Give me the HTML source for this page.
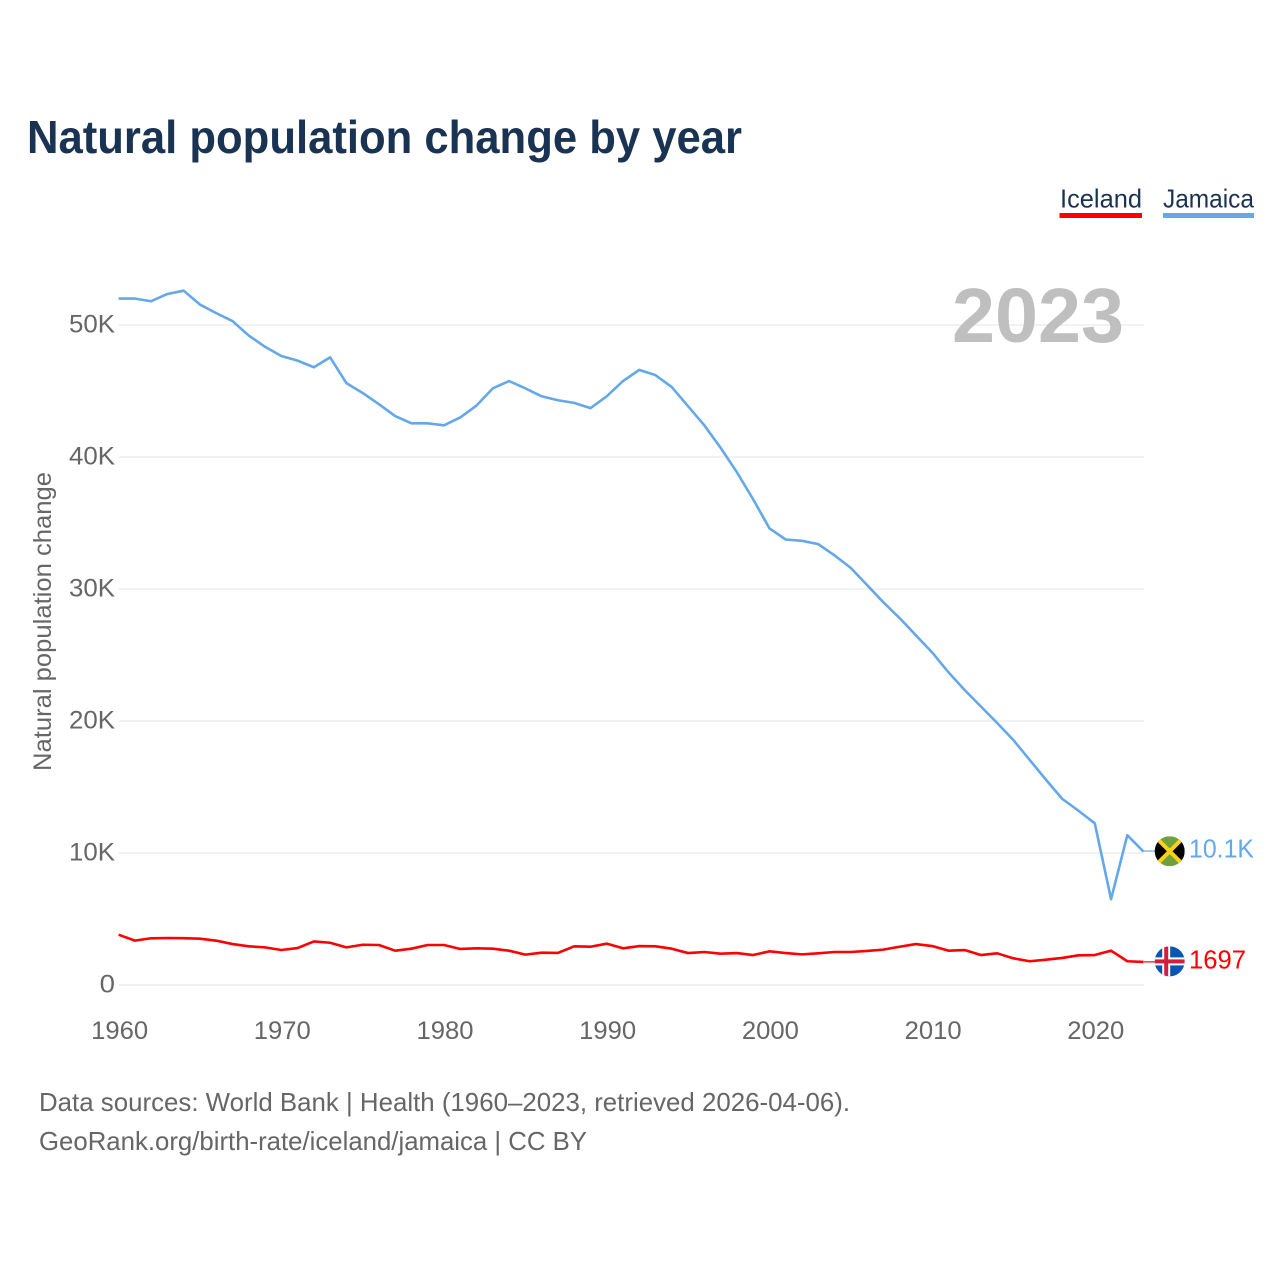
<!DOCTYPE html>
<html lang="en">
<head>
<meta charset="utf-8">
<title>Natural population change by year</title>
<style>
html,body{margin:0;padding:0;background:#fff;}
svg{display:block;font-family:"Liberation Sans",sans-serif;}
</style>
</head>
<body>
<svg id="chart" xmlns="http://www.w3.org/2000/svg" width="1280" height="1280" viewBox="0 0 1280 1280">
  <defs>
    <clipPath id="flag-clip"><circle cx="0" cy="0" r="15"></circle></clipPath>
  </defs>
  <rect width="1280" height="1280" fill="#fff"></rect>
  <text x="27" y="153" font-size="46" font-weight="700" fill="#1a3353" textLength="715" lengthAdjust="spacingAndGlyphs">Natural population change by year</text>

  <g>
    <g>
      <text x="1060" y="207.5" font-size="26" fill="#1a3353" textLength="82" lengthAdjust="spacingAndGlyphs">Iceland</text>
      <rect x="1059.5" y="213" width="82.5" height="5" fill="#ff0000"></rect>
    </g>
    <g>
      <text x="1163" y="207.5" font-size="26" fill="#1a3353" textLength="91" lengthAdjust="spacingAndGlyphs">Jamaica</text>
      <rect x="1163" y="213" width="91" height="5" fill="#64a8ea"></rect>
    </g>
  </g>

  <g id="grid"></g>
  <text x="952" y="342" font-size="77" font-weight="700" fill="#bfbfbf" textLength="172" lengthAdjust="spacingAndGlyphs">2023</text>
  <g id="y-axis"></g>
  <g id="x-axis"></g>
  <text transform="translate(51,771) rotate(-90)" font-size="25" fill="#666666" textLength="299" lengthAdjust="spacingAndGlyphs">Natural population change</text>
  <g id="series"></g>

  <g id="flag-jamaica">
    <g clip-path="url(#flag-clip)">
      <rect x="-15" y="-15" width="30" height="30" fill="#6ea03f"></rect>
      <polygon points="-15,-15 0,0 -15,15" fill="#000"></polygon>
      <polygon points="15,-15 0,0 15,15" fill="#000"></polygon>
      <line x1="-15" y1="-15" x2="15" y2="15" stroke="#fcd116" stroke-width="4"></line>
      <line x1="-15" y1="15" x2="15" y2="-15" stroke="#fcd116" stroke-width="4"></line>
    </g>
  </g>
  <g id="flag-iceland">
    <g clip-path="url(#flag-clip)">
      <rect x="-15" y="-15" width="30" height="30" fill="#0b56b0"></rect>
      <rect x="-15" y="-4" width="30" height="8" fill="#fff"></rect>
      <rect x="-7.5" y="-15" width="8" height="30" fill="#fff"></rect>
      <rect x="-15" y="-2" width="30" height="4" fill="#d21f3c"></rect>
      <rect x="-5.5" y="-15" width="4" height="30" fill="#d21f3c"></rect>
    </g>
  </g>
  <text id="value-jamaica" x="1189" font-size="26" fill="#64a8ea" textLength="65" lengthAdjust="spacingAndGlyphs"></text>
  <text id="value-iceland" x="1189" font-size="26" fill="#ff0000" textLength="57" lengthAdjust="spacingAndGlyphs"></text>

  <text x="39" y="1111" font-size="26" fill="#666666" textLength="811" lengthAdjust="spacingAndGlyphs">Data sources: World Bank | Health (1960–2023, retrieved 2026-04-06).</text>
  <text x="39" y="1150" font-size="26" fill="#666666" textLength="548" lengthAdjust="spacingAndGlyphs">GeoRank.org/birth-rate/iceland/jamaica | CC BY</text>
</svg>
<script>
const years = [1960,1961,1962,1963,1964,1965,1966,1967,1968,1969,1970,1971,1972,1973,1974,1975,1976,1977,1978,1979,1980,1981,1982,1983,1984,1985,1986,1987,1988,1989,1990,1991,1992,1993,1994,1995,1996,1997,1998,1999,2000,2001,2002,2003,2004,2005,2006,2007,2008,2009,2010,2011,2012,2013,2014,2015,2016,2017,2018,2019,2020,2021,2022,2023];
const jamaicaValues = [52000,52000,51800,52350,52600,51550,50900,50300,49200,48350,47650,47300,46800,47550,45600,44850,44000,43100,42550,42550,42400,43000,43900,45200,45750,45200,44600,44300,44100,43700,44600,45750,46600,46200,45300,43850,42400,40700,38850,36800,34600,33750,33650,33400,32550,31600,30300,29000,27800,26500,25200,23700,22350,21100,19850,18550,17050,15550,14100,13200,12250,6500,11350,10100];
const icelandValues = [3810,3360,3540,3560,3550,3510,3360,3100,2930,2850,2650,2800,3300,3200,2850,3050,3030,2600,2750,3030,3030,2730,2780,2750,2600,2300,2450,2430,2930,2900,3130,2780,2950,2930,2750,2420,2500,2370,2420,2270,2550,2420,2320,2400,2500,2500,2580,2680,2900,3100,2950,2600,2650,2270,2400,2020,1800,1920,2050,2250,2270,2600,1800,1750];
const yTicks = [0,10000,20000,30000,40000,50000];
const yTickLabels = ["0","10K","20K","30K","40K","50K"];
const xTicks = [1960,1970,1980,1990,2000,2010,2020];
const valueLabels = ["10.1K","1697"];

const NS = "http://www.w3.org/2000/svg";
function xScale(year){ return 119 + (year - 1960) * (1144 - 119) / (2023 - 1960); }
function yScale(v){ return 985 - v * 660 / 50000; }
function make(tag, attrs, parent){
  const el = document.createElementNS(NS, tag);
  for (const k in attrs) el.setAttribute(k, attrs[k]);
  parent.appendChild(el);
  return el;
}
const grid = document.getElementById("grid");
const yAxis = document.getElementById("y-axis");
const xAxis = document.getElementById("x-axis");
const series = document.getElementById("series");

yTicks.forEach(function(t, i){
  const line = make("line", {x1:119, x2:1144, y1:yScale(t), y2:yScale(t), stroke:"#eeeeee", "stroke-width":1.6}, grid);
  
  
  const label = yTickLabels[i];
  const lab = make("text", {x:115, y:yScale(t)+7.5, "font-size":25, fill:"#666666", "text-anchor":"end", textLength: label.length * 15.33, lengthAdjust:"spacingAndGlyphs"}, yAxis);
  lab.textContent = label;
  
  
});
xTicks.forEach(function(t){
  const lab = make("text", {x:xScale(t)+0.6, y:1039, "font-size":25, fill:"#666666", "text-anchor":"middle", textLength:57, lengthAdjust:"spacingAndGlyphs"}, xAxis);
  lab.textContent = String(t);
  
  
});
function pathFor(values){
  return values.map(function(v, i){
    return (i ? "L" : "M") + (xScale(years[i]) - 0.4).toFixed(2) + " " + yScale(v).toFixed(2);
  }).join(" ");
}
const jamaicaLine = make("path", {d:pathFor(jamaicaValues), fill:"none", stroke:"#64a8ea", "stroke-width":2.6, "stroke-linejoin":"round"}, series);


const icelandLine = make("path", {d:pathFor(icelandValues), fill:"none", stroke:"#ff0000", "stroke-width":2.6, "stroke-linejoin":"round"}, series);



const lastJ = yScale(jamaicaValues[jamaicaValues.length - 1]);
const lastI = yScale(icelandValues[icelandValues.length - 1]);
const connJ = make("line", {x1:1144, x2:1155, y1:lastJ - 0.6, y2:lastJ - 0.6, stroke:"#64a8ea", "stroke-width":1.2}, series);


const connI = make("line", {x1:1144, x2:1155, y1:lastI, y2:lastI, stroke:"#ff0000", "stroke-width":1.2}, series);



document.getElementById("flag-jamaica").setAttribute("transform", "translate(1169.7," + (lastJ - 0.4) + ")");
document.getElementById("flag-iceland").setAttribute("transform", "translate(1169.7," + (lastI - 0.5) + ")");
const vJ = document.getElementById("value-jamaica");
vJ.setAttribute("y", lastJ + 5.8);
vJ.textContent = valueLabels[0];
const vI = document.getElementById("value-iceland");
vI.setAttribute("y", lastI + 6.5);
vI.textContent = valueLabels[1];
</script>
</body>
</html>
